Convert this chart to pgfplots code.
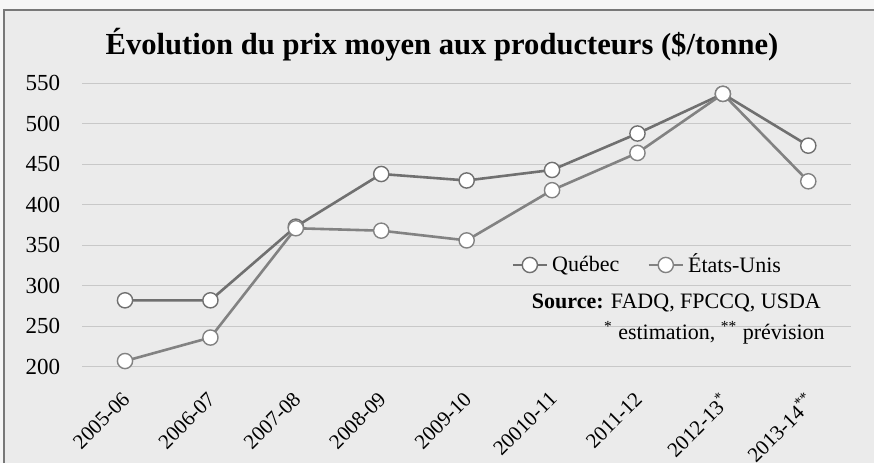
\documentclass[border=0pt]{standalone}
\usepackage{fontspec}
\setmainfont{Liberation Serif}
\usepackage{pgfplots}
\pgfplotsset{compat=1.18}
\definecolor{bgpanel}{RGB}{235,235,235}
\definecolor{bgout}{RGB}{246,246,246}
\definecolor{framec}{RGB}{120,120,120}
\definecolor{gridc}{RGB}{200,200,200}
\definecolor{qcc}{RGB}{112,112,112}
\definecolor{usc}{RGB}{130,130,130}
\begin{document}
\begin{tikzpicture}
\useasboundingbox (0,0) rectangle (437pt,231.5pt);
\fill[bgout] (0,0) rectangle (437pt,231.5pt);
\fill[bgpanel] (2pt,0) rectangle (437pt,226.5pt);
\draw[framec, line width=0.9pt] (2pt,0) -- (2pt,226.5pt) -- (437pt,226.5pt);
\node[font=\fontsize{15.3}{17}\selectfont\bfseries] at (221pt,209pt) {Évolution du prix moyen aux producteurs (\$/tonne)};
\begin{axis}[
  at={(41.15pt,48.15pt)}, anchor=south west,
  scale only axis, width=384.35pt, height=141.7pt,
  xmin=-0.5, xmax=8.5, ymin=200, ymax=550,
  ytick={200,250,...,550},
  xtick={0,...,8},
  xticklabels={2005-06,2006-07,2007-08,2008-09,2009-10,20010-11,2011-12,2012-13\textsuperscript{*},2013-14\textsuperscript{**}},
  axis line style={draw=none},
  major tick style={draw=none},
  ymajorgrids,
  grid style={gridc, line width=0.6pt},
  /pgf/number format/assume math mode=true,
  tick label style={font=\fontsize{11.5}{13}\selectfont},
  yticklabel style={anchor=east, xshift=-7.5pt},
  xticklabel style={xshift=-2pt, yshift=-7pt, rotate=45, anchor=north east, font=\fontsize{10.5}{12}\selectfont},
  clip=false,
  legend style={at={(0.55,0.359)}, anchor=west, draw=none, fill=none,
    font=\fontsize{11}{13}\selectfont, legend columns=2,
    /tikz/every even column/.append style={column sep=12pt}},
  legend cell align=left,
  every axis plot/.append style={line width=1.3pt},
]
\addplot[qcc, mark=*, mark size=3.8pt, mark options={draw=qcc, fill=white, line width=0.7pt}] coordinates {
(0,282) (1,282) (2,373) (3,438) (4,430) (5,443) (6,488) (7,537) (8,473)};
\addlegendentry{Québec}
\addplot[usc, mark=*, mark size=3.8pt, mark options={draw=usc, fill=white, line width=0.7pt}] coordinates {
(0,207) (1,236) (2,371) (3,368) (4,356) (5,418) (6,464) (7,537) (8,429)};
\addlegendentry{États-Unis}
\node[anchor=east, font=\fontsize{11}{13}\selectfont] at (rel axis cs:0.97,0.225) {\textbf{Source:} FADQ, FPCCQ, USDA};
\node[anchor=east, font=\fontsize{11}{13}\selectfont] at (rel axis cs:0.975,0.119) {\textsuperscript{*} estimation, \textsuperscript{**} prévision};
\end{axis}
\end{tikzpicture}
\end{document}
